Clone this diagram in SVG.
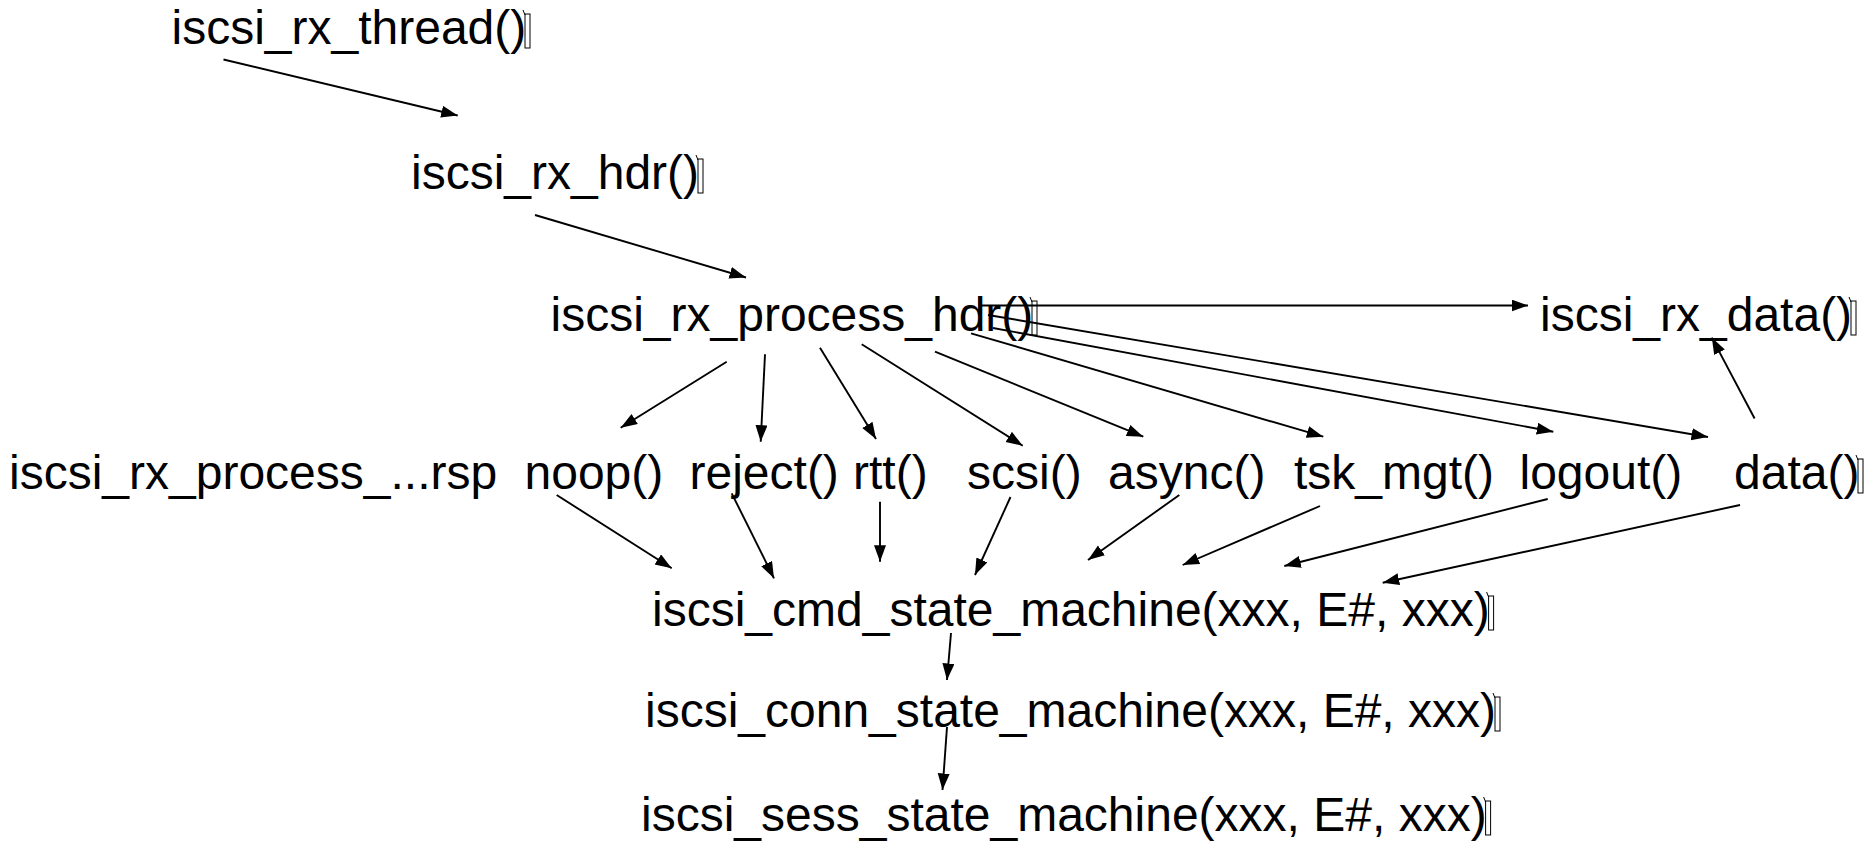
<svg xmlns="http://www.w3.org/2000/svg" xmlns:xlink="http://www.w3.org/1999/xlink" width="1864" height="842" viewBox="0 0 1864 842">
  <style>
    .lbl { font-family: "Liberation Sans", Arial, Helvetica, sans-serif; font-size: 48px; fill: #000; }
    .edge { stroke: #000; stroke-width: 1.9; fill: none; marker-end: url(#arrow); }
    .box { stroke: #000; stroke-width: 1; fill: none; }
  </style>
  <defs>
    <marker id="arrow" markerUnits="userSpaceOnUse" markerWidth="18" markerHeight="14" refX="16.5" refY="6" orient="auto">
      <path d="M0,0 L16.5,6 L0,12 Z" fill="#000"/>
    </marker>
    <!-- unprintable trailing character, shown as an empty box -->
    <g id="tofu">
      <rect class="box" x="0" y="-30" width="5" height="34"/>
      <line class="box" x1="-2" y1="-34" x2="0" y2="-29"/>
    </g>
  </defs>

  <rect width="1864" height="842" fill="#fff"/>

  <g id="connectors">
    <line class="edge" x1="223.5" y1="59.5" x2="457.7" y2="115.5"/>
    <line class="edge" x1="535" y1="215" x2="746" y2="277.5"/>
    <line class="edge" x1="980" y1="305.5" x2="1528" y2="305.5"/>
    <line class="edge" x1="726.7" y1="361.7" x2="620.7" y2="427.7"/>
    <line class="edge" x1="765" y1="354.3" x2="760.7" y2="441.7"/>
    <line class="edge" x1="820" y1="347.7" x2="876" y2="439"/>
    <line class="edge" x1="861.7" y1="344.3" x2="1022.7" y2="445.7"/>
    <line class="edge" x1="935" y1="351.7" x2="1143.3" y2="436.7"/>
    <line class="edge" x1="971" y1="333.3" x2="1323.3" y2="436.7"/>
    <line class="edge" x1="993" y1="328" x2="1553.3" y2="431.7"/>
    <line class="edge" x1="988" y1="315" x2="1708" y2="437"/>
    <line class="edge" x1="1754.6" y1="418.5" x2="1711.8" y2="337.6"/>
    <line class="edge" x1="556.7" y1="495" x2="671.7" y2="568.3"/>
    <line class="edge" x1="731.7" y1="493.3" x2="774" y2="578.3"/>
    <line class="edge" x1="880" y1="501.7" x2="880" y2="561.7"/>
    <line class="edge" x1="1010.5" y1="497" x2="975" y2="575"/>
    <line class="edge" x1="1179.3" y1="495" x2="1088" y2="560"/>
    <line class="edge" x1="1320" y1="506" x2="1182.7" y2="565"/>
    <line class="edge" x1="1547.7" y1="499" x2="1284.3" y2="566"/>
    <line class="edge" x1="1740" y1="505" x2="1382.7" y2="582.7"/>
    <line class="edge" x1="951" y1="633" x2="947" y2="680"/>
    <line class="edge" x1="947" y1="727" x2="942.5" y2="790"/>
  </g>

  <g id="rx_thread">
    <text class="lbl" x="171.5" y="44">iscsi_rx_thread()</text>
    <use xlink:href="#tofu" x="525" y="44"/>
  </g>
  <g id="rx_hdr">
    <text class="lbl" x="411" y="189">iscsi_rx_hdr()</text>
    <use xlink:href="#tofu" x="698" y="189"/>
  </g>
  <g id="rx_process_hdr">
    <text class="lbl" x="550.5" y="331">iscsi_rx_process_hdr()</text>
    <use xlink:href="#tofu" x="1032" y="331"/>
  </g>
  <g id="rx_data">
    <text class="lbl" x="1540" y="331">iscsi_rx_data()</text>
    <use xlink:href="#tofu" x="1851" y="331"/>
  </g>
  <g id="process_rsp">
    <text class="lbl" x="9" y="489">iscsi_rx_process_...rsp</text>
  </g>
  <g id="noop">
    <text class="lbl" x="524.5" y="489">noop()</text>
  </g>
  <g id="reject">
    <text class="lbl" x="689.5" y="489">reject()</text>
  </g>
  <g id="rtt">
    <text class="lbl" x="853" y="489">rtt()</text>
  </g>
  <g id="scsi">
    <text class="lbl" x="967" y="489">scsi()</text>
  </g>
  <g id="async">
    <text class="lbl" x="1108" y="489">async()</text>
  </g>
  <g id="tsk_mgt">
    <text class="lbl" x="1294" y="489">tsk_mgt()</text>
  </g>
  <g id="logout">
    <text class="lbl" x="1519.5" y="489">logout()</text>
  </g>
  <g id="data">
    <text class="lbl" x="1734" y="489">data()</text>
    <use xlink:href="#tofu" x="1858" y="489"/>
  </g>
  <g id="cmd_state_machine">
    <text class="lbl" x="652" y="626">iscsi_cmd_state_machine(xxx, E#, xxx)</text>
    <use xlink:href="#tofu" x="1488.6" y="626"/>
  </g>
  <g id="conn_state_machine">
    <text class="lbl" x="645" y="727">iscsi_conn_state_machine(xxx, E#, xxx)</text>
    <use xlink:href="#tofu" x="1495" y="727"/>
  </g>
  <g id="sess_state_machine">
    <text class="lbl" x="641" y="831">iscsi_sess_state_machine(xxx, E#, xxx)</text>
    <use xlink:href="#tofu" x="1485.6" y="831"/>
  </g>
</svg>
